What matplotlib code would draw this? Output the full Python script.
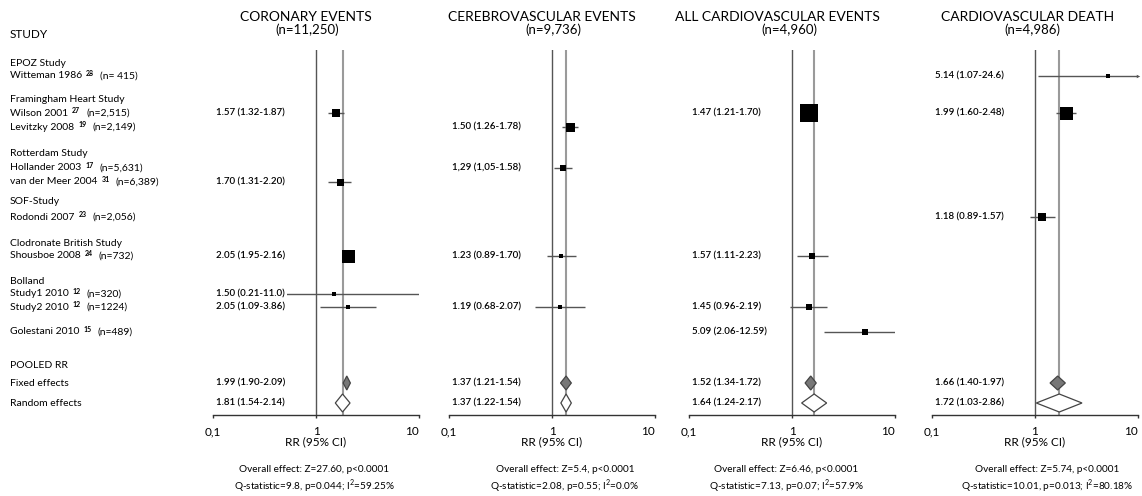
import numpy as np
import matplotlib
matplotlib.use('Agg')
import matplotlib.pyplot as plt
from matplotlib import transforms
from matplotlib.patches import Polygon

plt.rcParams['font.family'] = ['Lato', 'DejaVu Sans']
plt.rcParams['mathtext.fontset'] = 'custom'
plt.rcParams['mathtext.rm'] = 'Lato'
plt.rcParams['mathtext.bf'] = 'Lato:bold'

nan = np.nan

# studies (rows of the left column)
study_groups = ['EPOZ Study', 'Framingham Heart Study', 'Rotterdam Study',
                'SOF-Study', 'Clodronate British Study', 'Bolland']
study_names = ['Witteman 1986', 'Wilson 2001', 'Levitzky 2008', 'Hollander 2003',
               'van der Meer 2004', 'Rodondi 2007', 'Shousboe 2008',
               'Study1 2010', 'Study2 2010', 'Golestani 2010']
study_refs = ['28', '27', '19', '17', '31', '23', '24', '12', '12', '15']
study_n = ['(n= 415)', '(n=2,515)', '(n=2,149)', '(n=5,631)', '(n=6,389)',
           '(n=2,056)', '(n=732)', '(n=320)', '(n=1224)', '(n=489)']

panel_titles = ['CORONARY EVENTS', 'CEREBROVASCULAR EVENTS',
                'ALL CARDIOVASCULAR EVENTS', 'CARDIOVASCULAR DEATH']
panel_n = ['(n=11,250)', '(n=9,736)', '(n=4,960)', '(n=4,986)']

# relative risks per study, nan where the study did not report the outcome
coronary_rr = [nan, 1.57, nan, nan, 1.70, nan, 2.05, 1.50, 2.05, nan]
coronary_lo = [nan, 1.32, nan, nan, 1.31, nan, 1.95, 0.21, 1.09, nan]
coronary_hi = [nan, 1.87, nan, nan, 2.20, nan, 2.16, 11.0, 3.86, nan]
coronary_txt = [None, '1.57 (1.32-1.87)', None, None, '1.70 (1.31-2.20)', None,
                '2.05 (1.95-2.16)', '1.50 (0.21-11.0)', '2.05 (1.09-3.86)', None]

cerebro_rr = [nan, nan, 1.50, 1.29, nan, nan, 1.23, nan, 1.19, nan]
cerebro_lo = [nan, nan, 1.26, 1.05, nan, nan, 0.89, nan, 0.68, nan]
cerebro_hi = [nan, nan, 1.78, 1.58, nan, nan, 1.70, nan, 2.07, nan]
cerebro_txt = [None, None, '1.50 (1.26-1.78)', '1,29 (1,05-1.58)', None, None,
               '1.23 (0.89-1.70)', None, '1.19 (0.68-2.07)', None]

allcv_rr = [nan, 1.47, nan, nan, nan, nan, 1.57, nan, 1.45, 5.09]
allcv_lo = [nan, 1.21, nan, nan, nan, nan, 1.11, nan, 0.96, 2.06]
allcv_hi = [nan, 1.70, nan, nan, nan, nan, 2.23, nan, 2.19, 12.59]
allcv_txt = [None, '1.47 (1.21-1.70)', None, None, None, None,
             '1.57 (1.11-2.23)', None, '1.45 (0.96-2.19)', '5.09 (2.06-12.59)']

death_rr = [5.14, 1.99, nan, nan, nan, 1.18, nan, nan, nan, nan]
death_lo = [1.07, 1.60, nan, nan, nan, 0.89, nan, nan, nan, nan]
death_hi = [24.6, 2.48, nan, nan, nan, 1.57, nan, nan, nan, nan]
death_txt = ['5.14 (1.07-24.6)', '1.99 (1.60-2.48)', None, None, None,
             '1.18 (0.89-1.57)', None, None, None, None]

# study weights shown as square size (px)
coronary_box = [0, 8, 0, 0, 7, 0, 13, 3.5, 3.5, 0]
cerebro_box = [0, 0, 9, 6, 0, 0, 3.5, 0, 3.5, 0]
allcv_box = [0, 18, 0, 0, 0, 0, 6, 0, 6, 5.5]
death_box = [3.5, 13, 0, 0, 0, 8, 0, 0, 0, 0]

# pooled estimates (rr, lo, hi)
fixed_rr = [1.99, 1.37, 1.52, 1.66]
fixed_lo = [1.90, 1.21, 1.34, 1.40]
fixed_hi = [2.09, 1.54, 1.72, 1.97]
random_rr = [1.81, 1.37, 1.64, 1.72]
random_lo = [1.54, 1.22, 1.24, 1.03]
random_hi = [2.14, 1.54, 2.17, 2.86]
fixed_txt = ['1.99 (1.90-2.09)', '1.37 (1.21-1.54)', '1.52 (1.34-1.72)', '1.66 (1.40-1.97)']
random_txt = ['1.81 (1.54-2.14)', '1.37 (1.22-1.54)', '1.64 (1.24-2.17)', '1.72 (1.03-2.86)']

overall_txt = ['Overall effect: Z=27.60, p<0.0001', 'Overall effect: Z=5.4, p<0.0001',
               'Overall effect: Z=6.46, p<0.0001', 'Overall effect: Z=5.74, p<0.0001']
q_txt = ['Q-statistic=9.8, p=0.044; I$^2$=59.25%', 'Q-statistic=2.08, p=0.55; I$^2$=0.0%',
         'Q-statistic=7.13, p=0.07; I$^2$=57.9%', 'Q-statistic=10.01, p=0.013; I$^2$=80.18%']

panels = [
    (coronary_rr, coronary_lo, coronary_hi, coronary_txt, coronary_box),
    (cerebro_rr, cerebro_lo, cerebro_hi, cerebro_txt, cerebro_box),
    (allcv_rr, allcv_lo, allcv_hi, allcv_txt, allcv_box),
    (death_rr, death_lo, death_hi, death_txt, death_box),
]

# layout, in pixels of the 1142x496 canvas
W, H = 1142, 496
group_y = [63, 99, 154, 202, 243, 281]
study_y = [76, 113, 127, 168, 182, 217, 256, 294, 307, 332]
pooled_y, fixed_y, random_y = 365, 383, 403
panel_left = [213, 449, 689, 932]
panel_w = 206
top_y, axis_y = 50, 415
title_x = [306, 542, 777, 1028]
n_x = [307, 553, 789, 1032]
stats_x = [314, 565, 786, 1047]

line_col = '#555555'
pool_col = '#9a9a9a'


def fx(x):
    return x / W


def fy(y):
    return 1 - y / H


fig = plt.figure(figsize=(W / 100, H / 100), dpi=100)
renderer = fig.canvas.get_renderer()

# left column
fig.text(fx(10), fy(35), 'STUDY', fontsize=8.5, va='center', ha='left')
for g, y in zip(study_groups, group_y):
    fig.text(fx(10), fy(y), g, fontsize=7.5, va='center', ha='left')
for name, ref, n, y in zip(study_names, study_refs, study_n, study_y):
    t = fig.text(fx(10), fy(y), name, fontsize=7.5, va='center', ha='left')
    x_end = t.get_window_extent(renderer).x1
    r = fig.text(fx(x_end + 4), fy(y - 2.5), ref, fontsize=5, fontweight='bold',
                 va='center', ha='left')
    x_end = r.get_window_extent(renderer).x1
    fig.text(fx(x_end + 6), fy(y), n, fontsize=7.5, va='center', ha='left')
fig.text(fx(10), fy(pooled_y), 'POOLED RR', fontsize=7.5, va='center', ha='left')
fig.text(fx(10), fy(fixed_y), 'Fixed effects', fontsize=7.5, va='center', ha='left')
fig.text(fx(10), fy(random_y), 'Random effects', fontsize=7.5, va='center', ha='left')


def diamond(ax, rr, lo, hi, y, h, face, edge):
    # keep very narrow intervals visible
    lo = min(lo, rr / 10 ** 0.035)
    hi = max(hi, rr * 10 ** 0.035)
    pts = [(lo, y), (rr, y - h), (hi, y), (rr, y + h)]
    ax.add_patch(Polygon(pts, closed=True, facecolor=face, edgecolor=edge,
                         lw=0.9, zorder=4))


for i, (rr, lo, hi, txt, box) in enumerate(panels):
    left = panel_left[i]
    ax = fig.add_axes([fx(left), fy(axis_y), fx(panel_w), (axis_y - top_y) / H])
    ax.set_xscale('log')
    ax.set_xlim(0.1, 10)
    ax.set_ylim(axis_y, top_y)
    for s in ['top', 'right', 'left']:
        ax.spines[s].set_visible(False)
    ax.spines['bottom'].set_color('#333333')
    ax.spines['bottom'].set_linewidth(1.0)
    ax.set_yticks([])
    ax.set_xticks([0.1, 1, 10])
    ax.set_xticklabels(['0,1', '1', '10'], fontsize=8.5)
    ax.get_xticklabels()[-1].set_horizontalalignment('right')
    ax.xaxis.set_minor_locator(matplotlib.ticker.NullLocator())
    ax.tick_params(axis='x', length=2, width=1, color='#333333', pad=6)
    ax.patch.set_alpha(0)

    blend = transforms.blended_transform_factory(ax.transAxes, ax.transData)

    ax.axvline(1, color=line_col, lw=1, zorder=1)
    ax.axvline(random_rr[i], color=pool_col, lw=1.5, zorder=1)

    for k in range(len(study_names)):
        if np.isnan(rr[k]):
            continue
        y = study_y[k]
        ax.plot([lo[k], hi[k]], [y, y], color=line_col, lw=1, zorder=2,
                solid_capstyle='butt')
        ax.plot(rr[k], y, marker='s', color='black', ms=box[k] * 0.72,
                mew=0, zorder=3)
        if hi[k] > 20:
            ax.plot(10, y, marker='>', color=line_col, ms=2.5, mew=0,
                    zorder=3, clip_on=False)
        ax.text(0.015, y, txt[k], transform=blend, fontsize=7, ha='left',
                va='center', fontweight='semibold', zorder=5,
                bbox=dict(facecolor='white', edgecolor='none', pad=1.5))

    diamond(ax, fixed_rr[i], fixed_lo[i], fixed_hi[i], fixed_y, 7, '#777777', '#444444')
    diamond(ax, random_rr[i], random_lo[i], random_hi[i], random_y, 9, 'white', '#444444')
    ax.text(0.015, fixed_y, fixed_txt[i], transform=blend, fontsize=7,
            ha='left', va='center', fontweight='semibold')
    ax.text(0.015, random_y, random_txt[i], transform=blend, fontsize=7,
            ha='left', va='center', fontweight='semibold')

    # headings and summary statistics
    fig.text(fx(title_x[i]), fy(17), panel_titles[i], fontsize=10,
             ha='center', va='center')
    fig.text(fx(n_x[i]), fy(30), panel_n[i], fontsize=9.5, ha='center', va='center')
    ax.text(1, 442, 'RR (95% CI)', fontsize=8.5, ha='center', va='center',
            clip_on=False)
    fig.text(fx(stats_x[i]), fy(470), overall_txt[i], fontsize=7.2,
             ha='center', va='center')
    fig.text(fx(stats_x[i]), fy(486), q_txt[i], fontsize=7.2,
             ha='center', va='center')

fig.savefig('out.png', dpi=100)
